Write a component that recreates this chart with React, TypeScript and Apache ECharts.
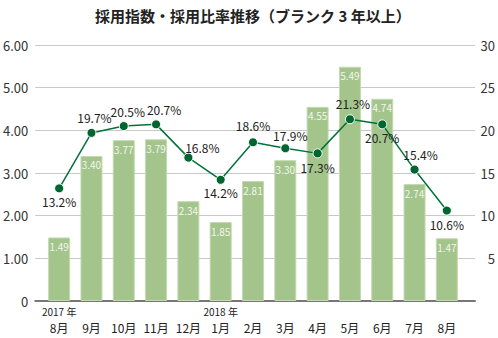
import React, { useEffect, useRef } from "react";
import * as echarts from "echarts";

const months = ["8月", "9月", "10月", "11月", "12月", "1月", "2月", "3月", "4月", "5月", "6月", "7月", "8月"];
const yearLabels = ["2017 年", "", "", "", "", "2018 年", "", "", "", "", "", "", ""];
const indexValues = [1.49, 3.4, 3.77, 3.79, 2.34, 1.85, 2.81, 3.3, 4.55, 5.49, 4.74, 2.74, 1.47];
const ratioValues = [13.2, 19.7, 20.5, 20.7, 16.8, 14.2, 18.6, 17.9, 17.3, 21.3, 20.7, 15.4, 10.6];
const ratioLabelPos = ["bottom", "top", "top", "top", "top", "bottom", "top", "top", "bottom", "top", "bottom", "top", "bottom"];
const ratioLabelOffset = [[0, -2], [3, 0], [4, 0], [8, 0], [14, 5], [0, -2], [0, -2], [5, 2], [0, -1], [3, -1], [0, -2], [6, 0], [0, -1]];

const NUM_FONT = "'Noto Sans CJK JP', sans-serif";
const JP_FONT = "'Noto Sans CJK JP', sans-serif";

export default function App() {
  const ref = useRef<HTMLDivElement>(null);
  useEffect(() => {
    if (!ref.current) return;
    const chart = echarts.init(ref.current, undefined, { renderer: "svg" });
    const top = 45;
    const height = 256;
    chart.setOption({
      animation: false,
      backgroundColor: "#ffffff",
      title: {
        text: "採用指数・採用比率推移（ブランク 3 年以上）",
        left: 90,
        top: 3,
        textStyle: { fontFamily: JP_FONT, fontSize: 15, fontWeight: "bold", color: "#222" },
      },
      grid: [
        { left: 30, top, width: 446, height },
        { left: 43, top, width: 420, height },
      ],
      xAxis: [
        {
          gridIndex: 0,
          type: "category",
          data: [""],
          axisLine: { show: true, lineStyle: { color: "#777", width: 2 } },
          axisTick: { show: false },
          axisLabel: { show: false },
        },
        {
          gridIndex: 1,
          type: "category",
          data: months,
          axisLine: { show: false },
          axisTick: { show: false },
          axisLabel: {
            margin: 19,
            interval: 0,
            fontFamily: NUM_FONT,
            fontSize: 12,
            lineHeight: 14,
            color: "#222",
          },
        },
        {
          gridIndex: 1,
          type: "category",
          position: "bottom",
          data: yearLabels,
          axisLine: { show: false },
          axisTick: { show: false },
          axisLabel: {
            margin: 4,
            interval: 0,
            fontFamily: NUM_FONT,
            fontSize: 10,
            lineHeight: 12,
            color: "#222",
          },
        },
      ],
      yAxis: [
        {
          gridIndex: 0,
          type: "value",
          min: 0,
          max: 6,
          interval: 1,
          axisLine: { show: false },
          axisTick: { show: false },
          splitLine: { lineStyle: { color: "#c8c8c8", width: 1 } },
          axisLabel: {
            margin: 7,
            fontFamily: NUM_FONT,
            fontSize: 13,
            color: "#333",
            formatter: (v: number) => (v === 0 ? "0" : v.toFixed(2)),
          },
        },
        {
          gridIndex: 0,
          type: "value",
          position: "right",
          min: 0,
          max: 30,
          interval: 5,
          axisLine: { show: false },
          axisTick: { show: false },
          splitLine: { show: false },
          axisLabel: {
            margin: 20,
            align: "right",
            fontFamily: NUM_FONT,
            fontSize: 13,
            color: "#333",
            formatter: (v: number) => (v === 0 ? "" : String(v)),
          },
        },
        { gridIndex: 1, type: "value", min: 0, max: 6, show: false },
        { gridIndex: 1, type: "value", min: 0, max: 30, show: false },
      ],
      series: [
        {
          type: "bar",
          xAxisIndex: 1,
          yAxisIndex: 2,
          data: indexValues,
          barWidth: 22,
          itemStyle: { color: "#a3c48b", borderColor: "#c4dab2", borderWidth: 1 },
          label: {
            show: true,
            position: "insideTop",
            distance: 4,
            fontFamily: NUM_FONT,
            fontSize: 10,
            color: "#f2f7ee",
            formatter: (p: any) => p.value.toFixed(2),
          },
          z: 2,
        },
        {
          type: "line",
          xAxisIndex: 1,
          yAxisIndex: 3,
          data: ratioValues.map((v, i) => ({
            value: v,
            label: { position: ratioLabelPos[i], offset: ratioLabelOffset[i] },
          })),
          symbol: "circle",
          symbolSize: 9,
          lineStyle: { color: "#00723a", width: 1.5 },
          itemStyle: { color: "#00662f", borderColor: "#ffffff", borderWidth: 1 },
          label: {
            show: true,
            distance: 4,
            fontFamily: NUM_FONT,
            fontSize: 12,
            color: "#222",
            formatter: (p: any) => `${p.value.toFixed(1)}%`,
          },
          z: 5,
        },
      ],
    });
    return () => chart.dispose();
  }, []);
  return <div ref={ref} style={{ width: 498, height: 338, position: "absolute", left: 0, top: 0 }} />;
}
